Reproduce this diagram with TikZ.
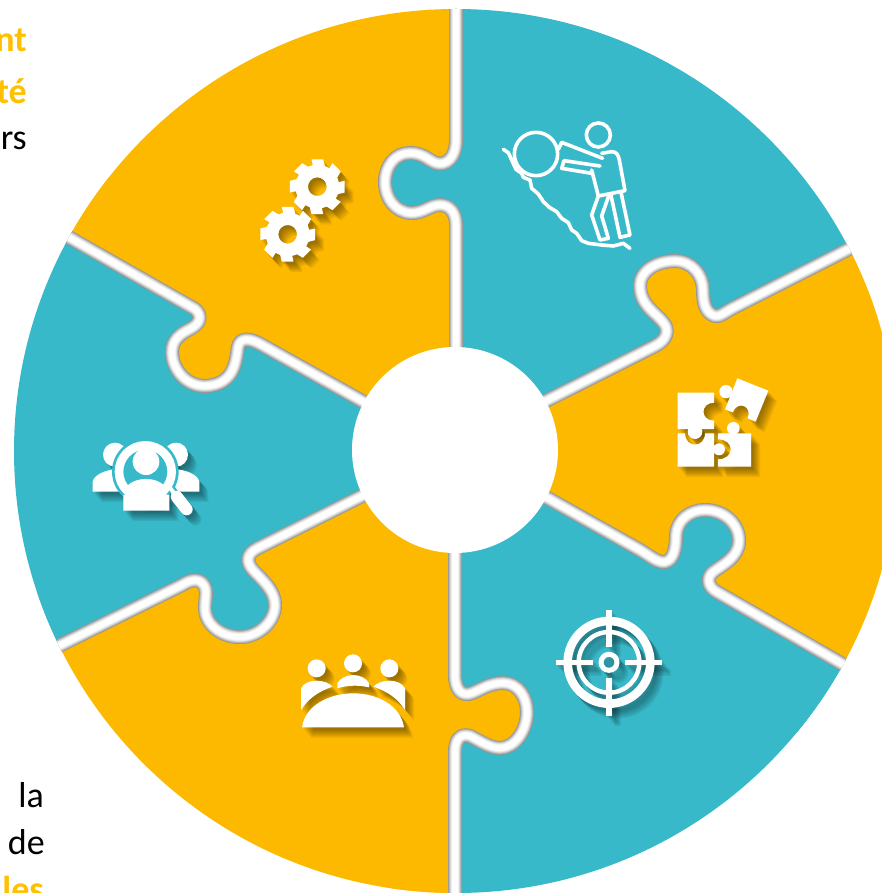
\documentclass[tikz,border=0pt]{standalone}
\usepackage{fontspec}
\setmainfont{Carlito}
\definecolor{puzyellow}{HTML}{FDB900}
\definecolor{puzteal}{HTML}{38B9C9}
\definecolor{txtorange}{HTML}{FFC000}
\tikzset{
  lab/.style={anchor=base east,inner sep=0pt,font=\fontsize{36}{36}\selectfont},
  labb/.style={lab,font=\fontsize{36}{36}\selectfont\bfseries,text=txtorange},
  icw/.style={fill=white,draw=none},
  iks/.style={draw=white,fill=none},
  icb/.style={fill=\icbg,draw=none},
  ikb/.style={draw=\icbg,fill=none},
  zoomed/.style={shift={(#1)},scale=1/3}
}
\newcommand\icbg{puzteal}
% draws #2 with a soft offset shadow, #1 = background colour for cut-outs
\newcommand\shadowicon[2]{%
  \renewcommand\icbg{#1}%
  \foreach \sx/\sy in {9/10.5,8/9.4,7/8.2,6/7,5/6,4/4.8,3/3.6,2/2.4}{%
    \begin{scope}[shift={(\sx,\sy)},opacity=.055,
      icw/.style={fill=black,draw=none},iks/.style={draw=black,fill=none},
      icb/.style={fill=none,draw=none},ikb/.style={draw=none,fill=none}]
      #2
    \end{scope}}%
  #2}
\newcommand\gearshape{%
  \fill[icw,even odd rule] (-12:84)
    \foreach \a in {0,45,...,315}{ -- (\a-12:84) -- (\a+12:84) -- (\a+20:66) -- (\a+33:66)}
    -- cycle (0,0) circle (28);}
% gap centre lines, in reference pixels
\def\gapA{(456,0) -- (456,140) .. controls (456,158) and (446,166) .. (436,163) .. controls (428,160) and (423,153) .. (410,153) .. controls (395,153) and (385,166) .. (385,182) .. controls (385,198) and (395,212) .. (411,213) .. controls (424,213) and (430,205) .. (440,205) .. controls (450,205) and (456,213) .. (456,225) -- (456,350)}
\def\gapB{(528,410) -- (655,346) .. controls (667,340) and (670,330) .. (663,322) .. controls (655,312) and (640,305) .. (640,285) .. controls (640,272) and (655,261) .. (675,261) .. controls (692,261) and (703,275) .. (703,290) .. controls (703,302) and (705,313) .. (715,316) .. controls (720,317) and (725,312) .. (733,308) -- (900,223)}
\def\gapC{(528,487) -- (640,550) .. controls (650,556) and (658,563) .. (665,562) .. controls (673,560) and (676,550) .. (676,535) .. controls (677,520) and (690,510) .. (705,510) .. controls (725,510) and (740,525) .. (739,542) .. controls (738,558) and (722,565) .. (713,572) .. controls (706,578) and (708,587) .. (717,592) -- (900,697)}
\def\gapD{(455,550) -- (455,675) .. controls (455,690) and (462,697) .. (472,693) .. controls (482,689) and (490,683) .. (503,683) .. controls (518,683) and (527,697) .. (527,712) .. controls (527,730) and (515,748) .. (500,748) .. controls (490,748) and (480,741) .. (470,736) .. controls (460,733) and (455,740) .. (455,752) -- (455,950)}
\def\gapE{(380,487) -- (258,548) .. controls (246,554) and (246,562) .. (253,570) .. controls (262,580) and (275,590) .. (275,605) .. controls (275,622) and (258,637) .. (240,637) .. controls (222,637) and (205,625) .. (205,608) .. controls (205,598) and (208,590) .. (203,584) .. controls (198,578) and (190,580) .. (182,585) -- (0,675)}
\def\gapF{(380,411) -- (262,345) .. controls (250,338) and (240,337) .. (238,347) .. controls (236,358) and (236,385) .. (205,386) .. controls (185,386) and (172,368) .. (172,352) .. controls (172,340) and (180,334) .. (190,329) .. controls (200,324) and (203,316) .. (195,309) -- (0,198)}
\begin{document}
\begin{tikzpicture}[x=1pt,y=-1pt,line cap=round,line join=round]
\useasboundingbox (0,0) rectangle (882,893);
\clip (0,0) rectangle (882,893);
% text at the page edge
\node[labb] (t1) at (27,52) {nt};
\node[labb] (t2) at (27,104) {té};
\node[lab]  (t3) at (27,150) {rs};
\node[lab]  (t4) at (44,807) {la};
\node[lab]  (t5) at (45,854) {de};
\node[labb] (t6) at (44,901) {les};
% wheel
\begin{scope}
  \clip (456,451) circle (442);
  \fill[puzteal]   (456,450) -- (456,-10) -- (950,-10) -- (900,223) -- cycle;
  \fill[puzyellow] (456,450) -- (900,223) -- (950,223) -- (950,697) -- (900,697) -- cycle;
  \fill[puzteal]   (456,450) -- (900,697) -- (950,950) -- (455,950) -- cycle;
  \fill[puzyellow] (456,450) -- (455,950) -- (-50,950) -- (0,675) -- cycle;
  \fill[puzteal]   (456,450) -- (0,675) -- (-50,675) -- (-50,198) -- (0,198) -- cycle;
  \fill[puzyellow] (456,450) -- (0,198) -- (-50,-10) -- (456,-10) -- cycle;
  \fill[puzteal]   \gapA -- (650,150) -- cycle;
  \fill[puzyellow] \gapB -- (850,450) -- cycle;
  \fill[puzteal]   \gapC -- (600,800) -- cycle;
  \fill[puzyellow] \gapD -- (250,750) -- cycle;
  \fill[puzteal]   \gapE -- (100,450) -- cycle;
  \fill[puzyellow] \gapF -- (250,150) -- cycle;
  \foreach \w/\g in {14/42,12.6/33,11.2/24,9.8/16,8.4/9,7/4,5.6/0}{
    \draw[line width=\w pt,draw=black!\g] \gapA;
    \draw[line width=\w pt,draw=black!\g] \gapB;
    \draw[line width=\w pt,draw=black!\g] \gapC;
    \draw[line width=\w pt,draw=black!\g] \gapD;
    \draw[line width=\w pt,draw=black!\g] \gapE;
    \draw[line width=\w pt,draw=black!\g] \gapF;
  }
  \fill[white] (455,450) circle (103);
\end{scope}
% sisyphus
\begin{scope}[zoomed={460,90},line width=3.6pt,draw=white]
  \draw (228,192) circle (65);
  \draw (415,135) circle (36);
  \draw (295,178) -- (305,157) -- (428,205);
  \draw (425,190) -- (455,185) .. controls (470,185) and (475,195) .. (478,210) -- (495,302) -- (415,318) -- (395,240);
  \draw (420,228) -- (312,212) -- (305,235) -- (395,250);
  \draw (415,318) -- (395,375) -- (420,450) -- (445,445) -- (425,378) -- (447,315);
  \draw (452,312) -- (480,442) -- (510,435) -- (483,307);
  \draw (130,178) -- (145,188) -- (155,210) -- (168,238) -- (185,250) -- (190,262) -- (210,270) -- (215,295) -- (235,312) -- (250,335) -- (268,352) -- (290,365) -- (305,385) -- (325,398) -- (335,420) -- (350,430) -- (365,452) -- (385,460) -- (425,465) -- (460,468) -- (490,460) -- (510,475);
\end{scope}
% puzzle
\shadowicon{puzyellow}{
\begin{scope}[zoomed={640,360}]
  \fill[icw] (113,98) -- (222,98) -- (222,128) .. controls (180,128) and (180,182) .. (222,182) -- (222,207) -- (113,207) -- cycle;
  \fill[icw] (165,215) circle (22);
  \fill[icw] (113,220) -- (135,220) .. controls (135,265) and (195,265) .. (195,220) -- (222,220) -- (222,320) -- (113,320) -- cycle;
  \fill[icw] (237,268) circle (18);
  \fill[icw] (234,220) -- (333,220) -- (333,320) -- (234,320) -- (234,298) .. controls (285,298) and (285,238) .. (234,238) -- cycle;
  \fill[icw] (280,205) circle (19);
  \fill[icw] (292,55) -- (385,92) -- (347,185) -- (323,175) .. controls (338,138) and (293,120) .. (278,157) -- (255,148) -- cycle;
  \fill[icw] (258,95) circle (20);
\end{scope}}
% magnifier and people
\shadowicon{puzteal}{
\begin{scope}[zoomed={70,420}]
  \fill[icw] (135,104) circle (36);
  \fill[icw] (318,104) circle (36);
  \fill[icw] (68,215) -- (68,185) .. controls (72,165) and (105,150) .. (135,148) -- (160,150) -- (160,215) -- cycle;
  \fill[icw] (388,215) -- (388,185) .. controls (384,165) and (350,150) .. (320,148) -- (295,150) -- (295,215) -- cycle;
  \fill[icb] (226,155) circle (100);
  \fill[icw] (160,225) -- (160,272) -- (298,272) -- (298,225) -- (226,210) -- cycle;
  \draw[ikb,line width=7pt] (305,205) -- (345,262);
  \fill[icw] (228,125) circle (40);
  \fill[icw] (172,197) .. controls (198,170) and (258,170) .. (283,197) .. controls (262,215) and (245,222) .. (226,222) .. controls (207,222) and (190,215) .. (172,197) -- cycle;
  \draw[iks,line width=8.6pt] (226,155) circle (79);
  \draw[iks,line width=4pt] (298,200) -- (318,228);
  \draw[iks,line width=12pt] (320,230) -- (350,268);
\end{scope}}
% meeting
\shadowicon{puzyellow}{
\begin{scope}[zoomed={280,630}]
  \fill[icw] (110,115) circle (27);
  \fill[icw] (219,100) circle (27);
  \fill[icw] (328,115) circle (27);
  \fill[icw] (63,240) -- (63,175) .. controls (70,160) and (90,152) .. (110,152) .. controls (130,152) and (150,160) .. (157,170) .. controls (115,185) and (85,205) .. (63,240) -- cycle;
  \fill[icw] (172,175) -- (172,160) .. controls (180,145) and (200,135) .. (219,135) .. controls (240,135) and (260,145) .. (267,160) -- (267,172) .. controls (235,165) and (205,165) .. (172,175) -- cycle;
  \fill[icw] (375,240) -- (375,175) .. controls (368,160) and (348,152) .. (328,152) .. controls (308,152) and (288,160) .. (281,170) .. controls (323,185) and (353,205) .. (375,240) -- cycle;
  \fill[icw] (66,292) .. controls (75,225) and (150,190) .. (219,190) .. controls (290,190) and (362,225) .. (372,292) -- cycle;
\end{scope}}
% gears
\shadowicon{puzyellow}{
\begin{scope}[zoomed={240,150}]
  \begin{scope}[shift={(232,110)}]\gearshape\end{scope}
  \begin{scope}[shift={(143,253)}]\gearshape\end{scope}
\end{scope}}
% target
\shadowicon{puzteal}{
\begin{scope}[zoomed={540,600}]
  \draw[iks,line width=8.6pt] (207,187) circle (124);
  \draw[iks,line width=4.5pt] (207,187) circle (91);
  \draw[iks,line width=5pt] (207,187) circle (24);
  \draw[iks,line width=5.6pt,line cap=butt] (207,30) -- (207,140);
  \draw[iks,line width=5.6pt,line cap=butt] (207,235) -- (207,347);
  \draw[iks,line width=5.6pt,line cap=butt] (48,187) -- (160,187);
  \draw[iks,line width=5.6pt,line cap=butt] (255,187) -- (366,187);
\end{scope}}
\end{tikzpicture}
\end{document}
